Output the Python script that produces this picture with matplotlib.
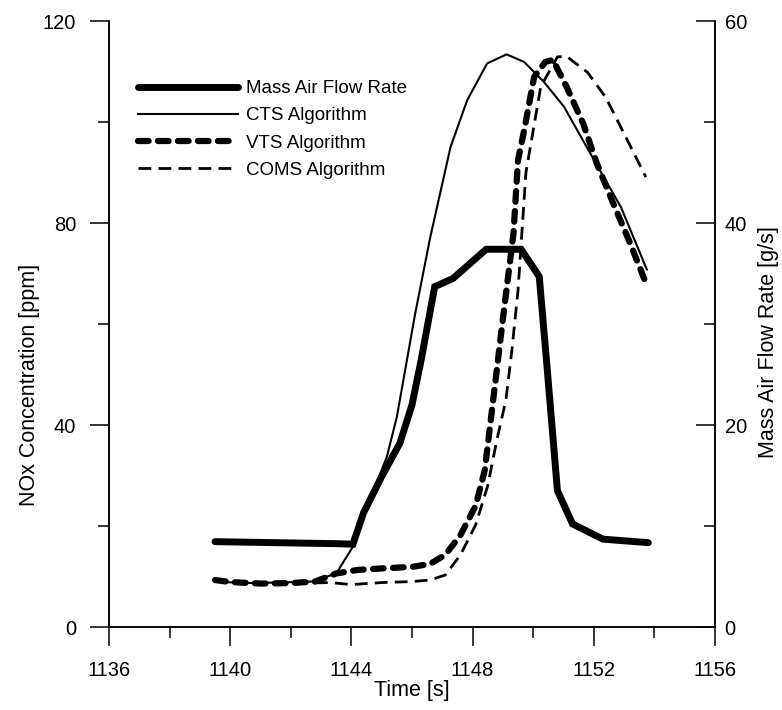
import matplotlib
matplotlib.use("Agg")
import matplotlib.pyplot as plt
from matplotlib.ticker import MultipleLocator

plt.rcParams["font.family"] = ["Liberation Sans", "DejaVu Sans"]

# Mass air flow rate [g/s] (right axis)
maf_time = [1139.5, 1140.5, 1141.5, 1142.5, 1143.5, 1144.05, 1144.4, 1145.0, 1145.6,
            1146.0, 1146.3, 1146.75, 1147.35, 1148.45, 1149.6, 1150.2, 1150.45, 1150.8,
            1151.3, 1152.3, 1153.8]
maf_rate = [8.45, 8.4, 8.35, 8.3, 8.25, 8.2, 11.3, 14.9, 18.2,
            22.0, 26.4, 33.7, 34.5, 37.4, 37.4, 34.7, 26.0, 13.5,
            10.2, 8.7, 8.35]

# NOx concentration [ppm] (left axis)
cts_time = [1139.5, 1140.5, 1141.5, 1142.7, 1143.5, 1144.05, 1144.6, 1145.17, 1145.5,
            1146.1, 1146.6, 1147.27, 1147.82, 1148.48, 1149.12, 1149.7, 1150.36, 1151.02,
            1152.1, 1152.9, 1153.75]
cts_nox = [9.0, 8.7, 8.8, 9.0, 10.6, 15.9, 25.1, 33.7, 41.6,
           61.9, 77.1, 95.0, 104.3, 111.6, 113.4, 111.9, 107.9, 103.0,
           91.5, 83.1, 70.8]

vts_time = [1139.5, 1140.0, 1141.0, 1142.0, 1142.8, 1143.5, 1144.2, 1145.0, 1146.0,
            1146.6, 1147.1, 1147.6, 1148.1, 1148.4, 1148.6, 1148.8, 1149.02, 1149.35,
            1149.5, 1149.7, 1150.03, 1150.4, 1150.65, 1151.1, 1151.65, 1152.1, 1152.64,
            1153.2, 1153.7]
vts_nox = [9.3, 8.9, 8.6, 8.7, 9.0, 10.6, 11.3, 11.6, 11.9,
           12.5, 14.3, 18.2, 24.0, 31.0, 41.0, 51.0, 62.0, 78.0,
           92.5, 98.3, 108.9, 111.9, 112.3, 107.0, 99.7, 91.8, 83.9,
           76.0, 68.4]

coms_time = [1139.5, 1140.5, 1141.5, 1142.5, 1143.3, 1144.0, 1145.0, 1146.0, 1146.6,
             1147.1, 1147.6, 1148.1, 1148.5, 1148.8, 1149.1, 1149.3, 1149.5, 1149.76,
             1150.25, 1150.8, 1151.1, 1151.8, 1152.4, 1153.0, 1153.72]
coms_nox = [9.3, 8.9, 8.6, 8.7, 8.8, 8.4, 8.8, 9.0, 9.3,
            10.3, 14.3, 20.2, 28.0, 37.0, 45.0, 55.0, 66.7, 90.0,
            107.0, 112.9, 113.0, 109.8, 104.8, 97.7, 89.1]

fig = plt.figure(figsize=(7.82, 7.10), dpi=100)
ax = fig.add_axes([0.1394, 0.1169, 0.7749, 0.8535])
ax2 = ax.twinx()

l1, = ax2.plot(maf_time, maf_rate, color="black", lw=5, solid_joinstyle="miter",
               solid_capstyle="round", label="Mass Air Flow Rate")
l2, = ax.plot(cts_time, cts_nox, color="black", lw=1.5, label="CTS Algorithm")
l3, = ax.plot(vts_time, vts_nox, color="black", lw=4.5, dashes=(1.7, 1.5),
              dash_capstyle="round", label="VTS Algorithm")
l4, = ax.plot(coms_time, coms_nox, color="black", lw=2, dashes=(4.6, 2.6),
              label="COMS Algorithm")

ax.set_xlim(1136, 1156)
ax.set_ylim(0, 120)
ax2.set_ylim(0, 60)

ax.xaxis.set_major_locator(MultipleLocator(4))
ax.xaxis.set_minor_locator(MultipleLocator(2))
ax.yaxis.set_major_locator(MultipleLocator(40))
ax.yaxis.set_minor_locator(MultipleLocator(20))
ax2.yaxis.set_major_locator(MultipleLocator(20))
ax2.yaxis.set_minor_locator(MultipleLocator(10))

for a in (ax, ax2):
    a.spines["top"].set_visible(False)
    for s in a.spines.values():
        s.set_linewidth(1.1)

ax.tick_params(axis="both", which="major", direction="out", length=14, width=1.1,
               labelsize=14.5)
ax.tick_params(axis="y", which="major", pad=9.5)
ax.tick_params(axis="x", which="major", pad=10.5)
ax.tick_params(axis="both", which="minor", direction="out", length=8, width=1.1)
ax2.tick_params(axis="y", which="major", direction="in", length=14, width=1.1,
                labelsize=14.5, pad=7)
ax2.tick_params(axis="y", which="minor", direction="in", length=8, width=1.1)

ax.set_xlabel("Time [s]", fontsize=15.5, labelpad=0)
ax.set_ylabel("NOx Concentration [ppm]", fontsize=15.5, labelpad=2)
ax2.set_ylabel("Mass Air Flow Rate [g/s]", fontsize=15.5, labelpad=8)
ax.yaxis.label.set_y(0.40)
ax2.yaxis.label.set_y(0.47)

ax.legend(handles=[l1, l2, l3, l4], loc="upper left", bbox_to_anchor=(0.032, 0.918),
          frameon=False, fontsize=13.5, handlelength=5.33, handletextpad=0.43,
          labelspacing=0.54, borderpad=0)

fig.savefig("out.png", dpi=100)
